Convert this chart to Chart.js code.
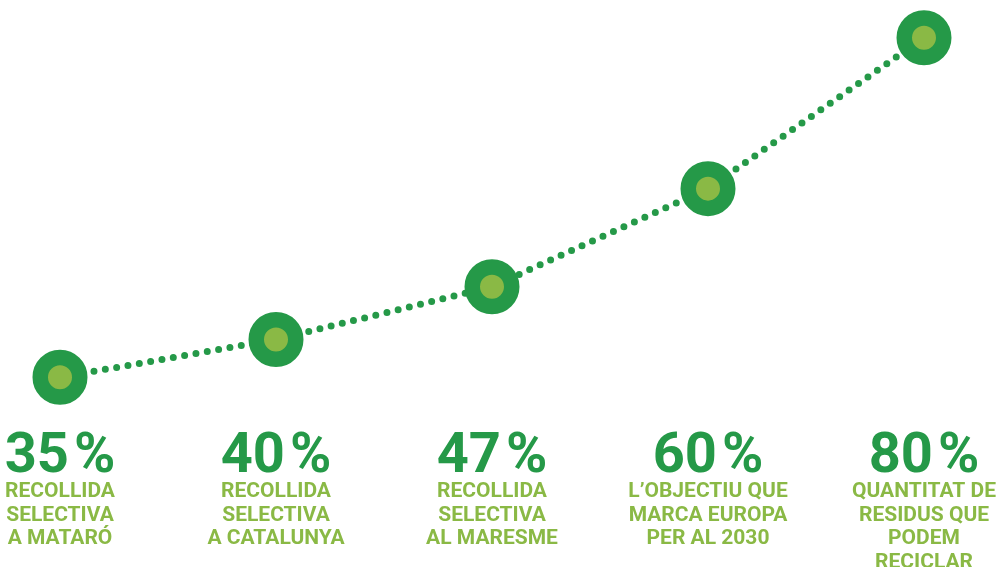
<!DOCTYPE html>
<html lang="ca">
<head>
  <meta charset="UTF-8">
  <title>Recollida selectiva</title>
  <script src="https://cdn.jsdelivr.net/npm/chart.js"></script>
  <style>
    html, body { margin: 0; padding: 0; background: #ffffff; }
    .chart-container { width: 1007px; height: 567px; position: relative; }
  </style>
</head>
<body>
  <div class="chart-container">
    <canvas id="reciclaChart"></canvas>
  </div>

  <script>
    // Dades
    const categories = ['Mataró', 'Catalunya', 'Maresme', 'Europa 2030', 'Reciclable'];
    const values = [35, 40, 47, 60, 80];
    const descriptions = [
      ['RECOLLIDA', 'SELECTIVA', 'A MATARÓ'],
      ['RECOLLIDA', 'SELECTIVA', 'A CATALUNYA'],
      ['RECOLLIDA', 'SELECTIVA', 'AL MARESME'],
      ['L\u2019OBJECTIU QUE', 'MARCA EUROPA', 'PER AL 2030'],
      ['QUANTITAT DE', 'RESIDUS QUE', 'PODEM', 'RECICLAR']
    ];

    const darkGreen = '#259948';
    const lightGreen = '#8ab945';

    // Etiquetes sota cada punt
    const labelsPlugin = {
      id: 'labelsBelow',
      afterDatasetsDraw(chart) {
        const ctx = chart.ctx;
        const xScale = chart.scales.x;
        ctx.save();
        ctx.textBaseline = 'alphabetic';
        values.forEach((v, i) => {
          const x = xScale.getPixelForValue(i);
          // percentatge
          ctx.font = 'bold 56px Roboto';
          const num = String(v);
          const nw = ctx.measureText(num).width;
          const pw = ctx.measureText('%').width;
          const gap = 5;
          const start = x - (nw + gap + pw) / 2;
          ctx.fillStyle = darkGreen;
          ctx.textAlign = 'left';
          ctx.fillText(num, start, 472);
          ctx.fillText('%', start + nw + gap, 472);
          // descripció
          ctx.font = 'bold 21px Roboto';
          ctx.fillStyle = lightGreen;
          ctx.textAlign = 'center';
          descriptions[i].forEach((line, j) => {
            ctx.fillText(line, x, 497 + j * 23.5);
          });
        });
        ctx.restore();
      }
    };

    const ctx = document.getElementById('reciclaChart').getContext('2d');
    new Chart(ctx, {
      type: 'line',
      data: {
        labels: categories,
        datasets: [{
          data: values,
          borderColor: darkGreen,
          borderWidth: 7,
          borderDash: [0, 11.5],
          borderCapStyle: 'round',
          tension: 0,
          fill: false,
          clip: false,
          pointStyle: 'circle',
          pointRadius: 19.75,
          pointBorderWidth: 15.5,
          pointBackgroundColor: lightGreen,
          pointBorderColor: darkGreen,
          pointHoverRadius: 19.75
        }]
      },
      options: {
        animation: false,
        responsive: true,
        maintainAspectRatio: false,
        layout: {
          autoPadding: false,
          padding: { left: 60, right: 83, top: 0, bottom: 152 }
        },
        scales: {
          x: { display: false, offset: false },
          y: { display: false, min: 30, max: 85 }
        },
        plugins: {
          legend: { display: false },
          tooltip: { enabled: false }
        }
      },
      plugins: [labelsPlugin]
    });
  </script>
</body>
</html>
